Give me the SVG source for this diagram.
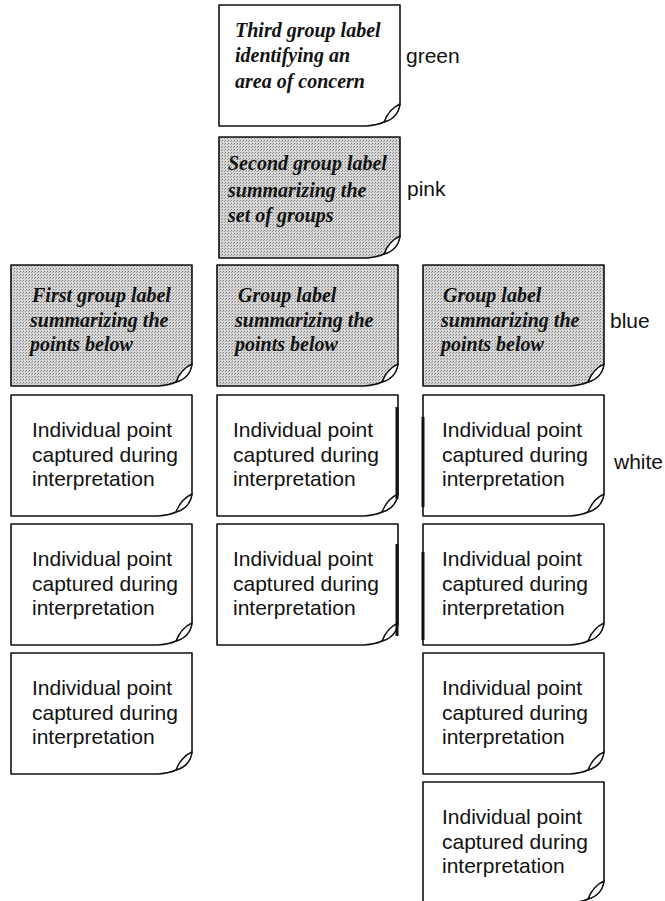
<svg xmlns="http://www.w3.org/2000/svg" xmlns:xlink="http://www.w3.org/1999/xlink" width="665" height="901" viewBox="0 0 665 901">
  <style>
    .sheet{stroke:#111;stroke-width:1.6;stroke-linejoin:round}
    .plain{fill:#fff}
    .tint{fill:url(#halftone)}
    .fold{fill:#fff;stroke:#111;stroke-width:1.4;stroke-linejoin:round}
    .script{font-family:"Liberation Serif","DejaVu Serif",serif;font-style:italic;font-weight:bold;font-size:20px;fill:#111}
    .body{font-family:"Liberation Sans",Arial,sans-serif;font-size:21px;fill:#111}
    .tag{font-family:"Liberation Sans",Arial,sans-serif;font-size:21px;fill:#111}
    .ink{stroke:#111;stroke-width:3;fill:none}
  </style>
  <defs>
    <!-- halftone screen used for the tinted sheets -->
    <pattern id="halftone" width="3" height="3" patternUnits="userSpaceOnUse">
      <rect width="3" height="3" fill="#d6d6d6"/>
      <rect width="1" height="1" fill="#7e7e7e"/>
      <rect x="2" y="1" width="1" height="1" fill="#9a9a9a"/>
    </pattern>
    <!-- sticky note outline with curled bottom-right corner -->
    <path id="sheet" d="M0,0 H181 V99 Q179,113 165,117 Q159,120 147,121 H0 Z"/>
    <path id="fold" d="M165,117 Q170,104 181,99 Q179,113 165,117 Z"/>
  </defs>

  <!-- top of the hierarchy -->
  <g id="note-third-group" transform="translate(219,5)">
    <use xlink:href="#sheet" class="sheet plain"/>
    <use xlink:href="#fold" class="fold"/>
    <text class="script" x="16" y="32">Third group label</text>
    <text class="script" x="16" y="57">identifying an</text>
    <text class="script" x="16" y="83">area of concern</text>
  </g>

  <g id="note-second-group" transform="translate(219,137)">
    <use xlink:href="#sheet" class="sheet tint"/>
    <use xlink:href="#fold" class="fold"/>
    <text class="script" x="9" y="33">Second group label</text>
    <text class="script" x="9" y="60">summarizing the</text>
    <text class="script" x="9" y="85">set of groups</text>
  </g>

  <!-- group labels -->
  <g id="note-first-group" transform="translate(11,265)">
    <use xlink:href="#sheet" class="sheet tint"/>
    <use xlink:href="#fold" class="fold"/>
    <text class="script" x="21" y="37">First group label</text>
    <text class="script" x="19" y="62">summarizing the</text>
    <text class="script" x="19" y="86">points below</text>
  </g>

  <g id="note-group-mid" transform="translate(217,265)">
    <use xlink:href="#sheet" class="sheet tint"/>
    <use xlink:href="#fold" class="fold"/>
    <text class="script" x="21" y="37">Group label</text>
    <text class="script" x="18" y="62">summarizing the</text>
    <text class="script" x="18" y="86">points below</text>
  </g>

  <g id="note-group-right" transform="translate(423,265)">
    <use xlink:href="#sheet" class="sheet tint"/>
    <use xlink:href="#fold" class="fold"/>
    <text class="script" x="20" y="37">Group label</text>
    <text class="script" x="18" y="62">summarizing the</text>
    <text class="script" x="18" y="86">points below</text>
  </g>

  <!-- individual points: left column -->
  <g id="note-point-l1" transform="translate(11,395)">
    <use xlink:href="#sheet" class="sheet plain"/>
    <use xlink:href="#fold" class="fold"/>
    <text class="body" x="21" y="42">Individual point</text>
    <text class="body" x="21" y="67">captured during</text>
    <text class="body" x="21" y="91">interpretation</text>
  </g>
  <g id="note-point-l2" transform="translate(11,524)">
    <use xlink:href="#sheet" class="sheet plain"/>
    <use xlink:href="#fold" class="fold"/>
    <text class="body" x="21" y="42">Individual point</text>
    <text class="body" x="21" y="67">captured during</text>
    <text class="body" x="21" y="91">interpretation</text>
  </g>
  <g id="note-point-l3" transform="translate(11,653)">
    <use xlink:href="#sheet" class="sheet plain"/>
    <use xlink:href="#fold" class="fold"/>
    <text class="body" x="21" y="42">Individual point</text>
    <text class="body" x="21" y="67">captured during</text>
    <text class="body" x="21" y="91">interpretation</text>
  </g>

  <!-- individual points: middle column -->
  <g id="note-point-m1" transform="translate(217,395)">
    <use xlink:href="#sheet" class="sheet plain"/>
    <use xlink:href="#fold" class="fold"/>
    <path class="ink" d="M180,12 V104"/>
    <text class="body" x="16" y="42">Individual point</text>
    <text class="body" x="16" y="67">captured during</text>
    <text class="body" x="16" y="91">interpretation</text>
  </g>
  <g id="note-point-m2" transform="translate(217,524)">
    <use xlink:href="#sheet" class="sheet plain"/>
    <use xlink:href="#fold" class="fold"/>
    <path class="ink" d="M180,20 V112"/>
    <text class="body" x="16" y="42">Individual point</text>
    <text class="body" x="16" y="67">captured during</text>
    <text class="body" x="16" y="91">interpretation</text>
  </g>

  <!-- individual points: right column -->
  <g id="note-point-r1" transform="translate(423,395)">
    <use xlink:href="#sheet" class="sheet plain"/>
    <use xlink:href="#fold" class="fold"/>
    <path class="ink" d="M0,22 V112"/>
    <text class="body" x="19" y="42">Individual point</text>
    <text class="body" x="19" y="67">captured during</text>
    <text class="body" x="19" y="91">interpretation</text>
  </g>
  <g id="note-point-r2" transform="translate(423,524)">
    <use xlink:href="#sheet" class="sheet plain"/>
    <use xlink:href="#fold" class="fold"/>
    <path class="ink" d="M0,28 V116"/>
    <text class="body" x="19" y="42">Individual point</text>
    <text class="body" x="19" y="67">captured during</text>
    <text class="body" x="19" y="91">interpretation</text>
  </g>
  <g id="note-point-r3" transform="translate(423,653)">
    <use xlink:href="#sheet" class="sheet plain"/>
    <use xlink:href="#fold" class="fold"/>
    <text class="body" x="19" y="42">Individual point</text>
    <text class="body" x="19" y="67">captured during</text>
    <text class="body" x="19" y="91">interpretation</text>
  </g>
  <g id="note-point-r4" transform="translate(423,782)">
    <use xlink:href="#sheet" class="sheet plain"/>
    <use xlink:href="#fold" class="fold"/>
    <text class="body" x="19" y="42">Individual point</text>
    <text class="body" x="19" y="67">captured during</text>
    <text class="body" x="19" y="91">interpretation</text>
  </g>

  <!-- colour key beside each level -->
  <g id="colour-key">
    <text class="tag" x="406" y="63">green</text>
    <text class="tag" x="407" y="196">pink</text>
    <text class="tag" x="610" y="328">blue</text>
    <text class="tag" x="614" y="469">white</text>
  </g>
</svg>
